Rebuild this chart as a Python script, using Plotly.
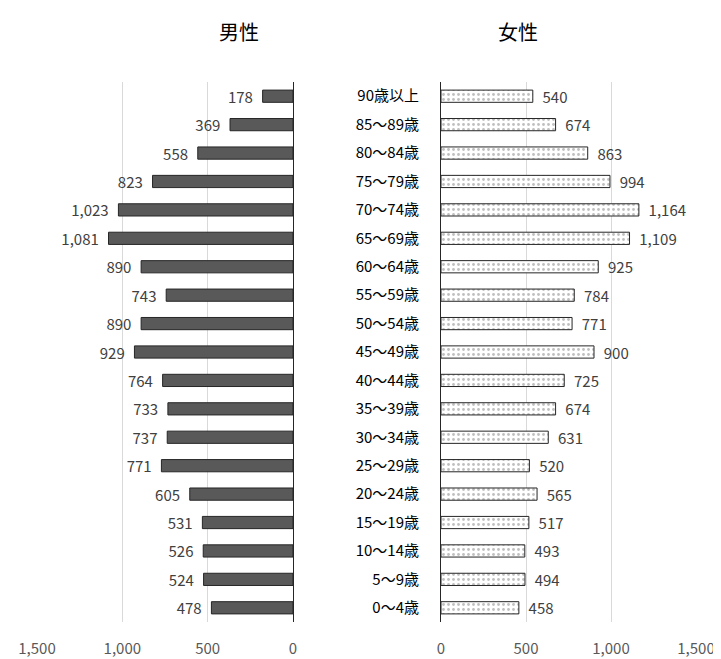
import plotly.graph_objects as go

ages = ["0～4歳","5～9歳","10～14歳","15～19歳","20～24歳","25～29歳","30～34歳","35～39歳","40～44歳","45～49歳","50～54歳","55～59歳","60～64歳","65～69歳","70～74歳","75～79歳","80～84歳","85～89歳","90歳以上"]
male = [478,524,526,531,605,771,737,733,764,929,890,743,890,1081,1023,823,558,369,178]
female = [458,494,493,517,565,520,631,674,725,900,771,784,925,1109,1164,994,863,674,540]
ticks = [0,500,1000,1500]
ticktext = ["0","500","1,000","1,500"]

F = "Noto Sans CJK JP"
fig = go.Figure()
fig.add_trace(go.Bar(x=male, y=ages, orientation="h", xaxis="x", yaxis="y",
    marker=dict(color="#595959", line=dict(color="#262626", width=1)),
    texttemplate="%{x:,}  ", textposition="outside", cliponaxis=False, constraintext="none",
    textfont=dict(size=15, color="#404040", family=F)))
fig.add_trace(go.Bar(x=female, y=ages, orientation="h", xaxis="x2", yaxis="y2",
    marker=dict(color="white", line=dict(color="#262626", width=1),
                pattern=dict(shape=".", fgcolor="#7f7f7f", bgcolor="white", size=5, solidity=0.25)),
    texttemplate="  %{x:,}", textposition="outside", cliponaxis=False, constraintext="none",
    textfont=dict(size=15, color="#404040", family=F)))

W = 721
ax = dict(tickvals=ticks, ticktext=ticktext, showgrid=True, gridcolor="#d9d9d9", automargin=False,
          zeroline=False, tickfont=dict(size=15, color="#595959", family=F), ticks="", ticklen=0,
          ticklabelstandoff=16)
fig.update_layout(
    width=W, height=659, margin=dict(l=0, r=0, t=74, b=45, autoexpand=False),
    paper_bgcolor="white", plot_bgcolor="white", showlegend=False, bargap=0.57,
    xaxis=dict(domain=[29/W, 285/W], range=[1500,0], **ax),
    xaxis2=dict(domain=[433/W, 688/W], range=[0,1500], **ax),
    yaxis=dict(anchor="x", side="right", showticklabels=False, showline=True, linecolor="#262626", linewidth=1, automargin=False),
    yaxis2=dict(anchor="x2", showticklabels=True, showline=True, linecolor="#262626", linewidth=1, automargin=False,
                tickfont=dict(size=15, color="black", family=F), ticklabelstandoff=18, ticks=""),
    annotations=[
        dict(text="男性", x=209/W, y=1 + 67/540, xref="paper", yref="paper", showarrow=False, font=dict(size=20, color="black", family=F)),
        dict(text="女性", x=532/W, y=1 + 67/540, xref="paper", yref="paper", showarrow=False, font=dict(size=20, color="black", family=F)),
    ],
)
fig.write_html("out.html")
